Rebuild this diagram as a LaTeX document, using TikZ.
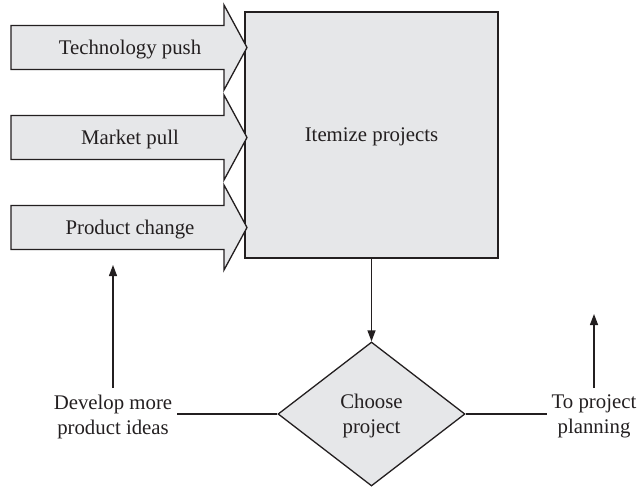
\documentclass[tikz,border=0pt]{standalone}
\usepackage{fontspec}
\setmainfont{Liberation Serif}
\usetikzlibrary{shapes.geometric,arrows.meta}
\definecolor{boxfill}{HTML}{E6E7E9}
\definecolor{ink}{HTML}{231F20}
\begin{document}
\begin{tikzpicture}[x=1pt,y=-1pt,
  every node/.style={font=\fontsize{20.8}{25}\selectfont, text=ink},
  line/.style={draw=ink, line width=1.3pt},
  arr/.style={line, -{Triangle[length=11pt,width=8pt]}},
  blk/.style={line, fill=boxfill, line join=miter},
  lbl/.style={align=center, inner xsep=5pt, inner ysep=7pt}]
\useasboundingbox (0,0) rectangle (639,487);
\node[blk, rectangle, minimum width=253pt, minimum height=246pt, inner sep=0pt, text depth=0pt] (items) at (371.5,135) {Itemize projects};
\foreach \y/\t/\n in {47.5/Technology push/tech, 137.5/Market pull/market, 227.5/Product change/prod} {
  \draw[blk] (11,\y-22) -- (224,\y-22) -- (224,\y-42.5) -- (247,\y) -- (224,\y+42.5) -- (224,\y+22) -- (11,\y+22) -- cycle;
  \node[text depth=0pt] (\n) at (130,\y) {\t};
}
\node[blk, diamond, minimum width=187pt, minimum height=144pt, inner sep=0pt, align=center, text depth=0pt] (choose) at (371.5,414) {Choose\\project};
\draw[arr] (items.south) -- (choose.north);
\node[lbl, anchor=north] (dev) at (113,388) {Develop more\\product ideas};
\node[lbl, anchor=north] (plan) at (594,388) {To project\\planning};
\draw[line] (choose.west) -- (choose.west -| dev.east);
\draw[line] (choose.east) -- (choose.east -| plan.west);
\coordinate (devtop) at (113,265);
\coordinate (plantop) at (594,314);
\draw[arr] (dev.north) -- (devtop);
\draw[arr] (plan.north) -- (plantop);
\end{tikzpicture}
\end{document}
